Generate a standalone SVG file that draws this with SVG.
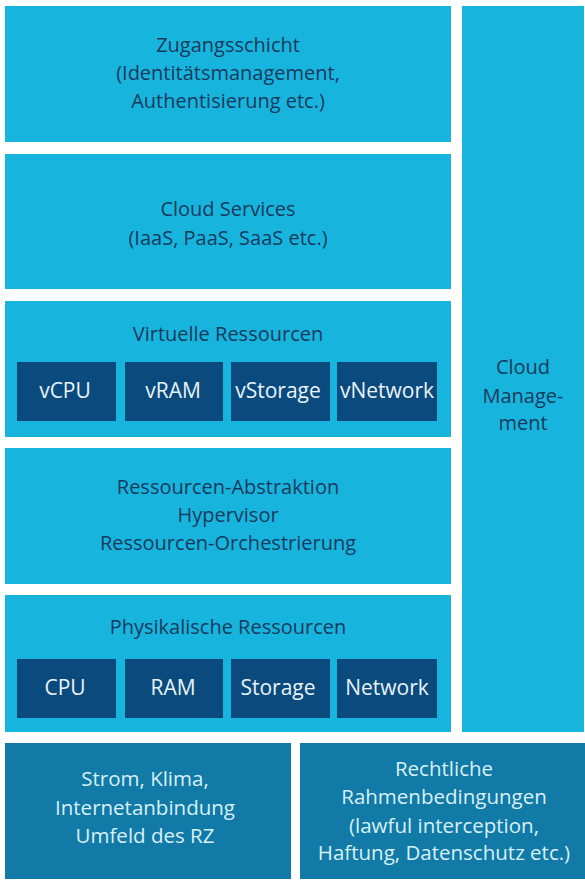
<svg xmlns="http://www.w3.org/2000/svg" width="585" height="883" viewBox="0 0 585 883">
<style>
.l{fill:#17b5de}
.d{fill:#0b4a7d}
.b{fill:#117aa6}
text{font-family:"Open Sans","Noto Sans",sans-serif;font-size:20px;text-anchor:middle}
.t{fill:#173a5c}
.w{fill:#e8f3f9;font-size:21px}
.bt{fill:#d8f0f8;font-size:20.5px}
</style>
<rect width="585" height="883" fill="#ffffff"/>
<g id="zugang">
<rect class="l" x="5" y="6" width="446" height="136"/>
<text class="t" x="228" y="52">Zugangsschicht</text>
<text class="t" x="228" y="80">(Identitätsmanagement,</text>
<text class="t" x="228" y="108">Authentisierung etc.)</text>
</g>
<g id="services">
<rect class="l" x="5" y="154" width="446" height="135"/>
<text class="t" x="228" y="216">Cloud Services</text>
<text class="t" x="228" y="245">(IaaS, PaaS, SaaS etc.)</text>
</g>
<g id="virtuell">
<rect class="l" x="5" y="301" width="446" height="136"/>
<text class="t" x="228" y="341">Virtuelle Ressourcen</text>
<rect class="d" x="17" y="362" width="99" height="59"/>
<text class="w" x="65" y="398">vCPU</text>
<rect class="d" x="125" y="362" width="98" height="59"/>
<text class="w" x="173" y="398">vRAM</text>
<rect class="d" x="231" y="362" width="99" height="59"/>
<text class="w" x="278" y="398">vStorage</text>
<rect class="d" x="337" y="362" width="100" height="59"/>
<text class="w" x="387" y="398">vNetwork</text>
</g>
<g id="abstraktion">
<rect class="l" x="5" y="448" width="446" height="136"/>
<text class="t" x="228" y="494">Ressourcen-Abstraktion</text>
<text class="t" x="228" y="522">Hypervisor</text>
<text class="t" x="228" y="550">Ressourcen-Orchestrierung</text>
</g>
<g id="physikalisch">
<rect class="l" x="5" y="595" width="446" height="137"/>
<text class="t" x="228" y="634">Physikalische Ressourcen</text>
<rect class="d" x="17" y="659" width="99" height="59"/>
<text class="w" x="65" y="695">CPU</text>
<rect class="d" x="125" y="659" width="98" height="59"/>
<text class="w" x="173" y="695">RAM</text>
<rect class="d" x="231" y="659" width="99" height="59"/>
<text class="w" x="278" y="695">Storage</text>
<rect class="d" x="337" y="659" width="100" height="59"/>
<text class="w" x="387" y="695">Network</text>
</g>
<g id="management">
<rect class="l" x="462" y="6" width="122" height="726"/>
<text class="t" x="523" y="374">Cloud</text>
<text class="t" x="523" y="403">Manage-</text>
<text class="t" x="523" y="430">ment</text>
</g>
<g id="umfeld">
<rect class="b" x="5" y="743" width="286" height="136"/>
<text class="bt" x="145" y="786">Strom, Klima,</text>
<text class="bt" x="145" y="815">Internetanbindung</text>
<text class="bt" x="145" y="843">Umfeld des RZ</text>
</g>
<g id="recht">
<rect class="b" x="300" y="743" width="285" height="136"/>
<text class="bt" x="444" y="776">Rechtliche</text>
<text class="bt" x="444" y="804">Rahmenbedingungen</text>
<text class="bt" x="444" y="833">(lawful interception,</text>
<text class="bt" x="444" y="860">Haftung, Datenschutz etc.)</text>
</g>
<g id="connectors"></g>
</svg>
